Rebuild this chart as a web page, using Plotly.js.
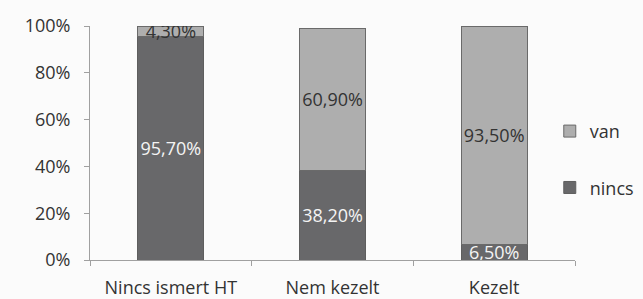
<!DOCTYPE html>
<html>
<head>
<meta charset="utf-8">
<script src="https://cdn.plot.ly/plotly-3.0.1.min.js"></script>
<style>html,body{margin:0;padding:0;background:#fbfbfb;}</style>
</head>
<body>
<div id="chart" style="width:643px;height:299px;"></div>
<script>
const categories = ["Nincs ismert HT", "Nem kezelt", "Kezelt"];
const nincsValues = [95.7, 38.2, 6.5];
const vanValues = [4.3, 60.9, 93.5];
const nincsLabels = ["95,70%", "38,20%", "6,50%"];
const vanLabels = ["4,30%", "60,90%", "93,50%"];
const yTickVals = [0, 20, 40, 60, 80, 100];
const yTickText = ["0%", "20%", "40%", "60%", "80%", "100%"];

const font = "'Open Sans', 'Noto Sans', sans-serif";

const traces = [
  {
    type: "bar", name: "nincs", x: categories, y: nincsValues,
    text: nincsLabels, textposition: "inside", insidetextanchor: "middle",
    constraintext: "none", textangle: 0,
    textfont: {family: font, size: 18, color: "#f4f4f4"},
    marker: {color: "#68686a", line: {color: "#5e5e5e", width: 1}},
    legendgroup: "b", legendrank: 2, hoverinfo: "none"
  },
  {
    type: "bar", name: "van", x: categories, y: vanValues,
    text: vanLabels, textposition: "inside", insidetextanchor: "middle",
    constraintext: "none", textangle: 0,
    textfont: {family: font, size: 18, color: "#333333"},
    marker: {color: "#aeaeae", line: {color: "#6a6a6a", width: 1}},
    legendgroup: "a", legendrank: 1, hoverinfo: "none"
  }
];

const layout = {
  width: 643, height: 299,
  margin: {l: 90, r: 68, t: 26, b: 39, autoexpand: false},
  paper_bgcolor: "#fbfbfb", plot_bgcolor: "#fbfbfb",
  barmode: "stack", bargap: 0.59,
  font: {family: font, color: "#333333"},
  showlegend: true,
  legend: {
    x: 0.948, xanchor: "left", y: 0.43, yanchor: "middle",
    traceorder: "grouped", tracegroupgap: 30,
    font: {family: font, size: 18, color: "#333333"},
    bgcolor: "rgba(0,0,0,0)"
  },
  xaxis: {
    showline: true, linecolor: "#a0a0a0", linewidth: 1,
    ticks: "outside", tickson: "boundaries", ticklen: 5, tickcolor: "#a0a0a0",
    tickfont: {family: font, size: 18, color: "#333333"},
    ticklabelstandoff: 11,
    showgrid: false, zeroline: false, fixedrange: true
  },
  yaxis: {
    range: [0, 100], tickvals: yTickVals, ticktext: yTickText,
    showline: true, linecolor: "#a0a0a0", linewidth: 1,
    ticks: "outside", ticklen: 5, tickcolor: "#a0a0a0",
    tickfont: {family: font, size: 18, color: "#333333"},
    ticklabelstandoff: 10,
    showgrid: false, zeroline: false, fixedrange: true
  }
};

Plotly.newPlot("chart", traces, layout, {staticPlot: true, displayModeBar: false});
</script>
</body>
</html>
